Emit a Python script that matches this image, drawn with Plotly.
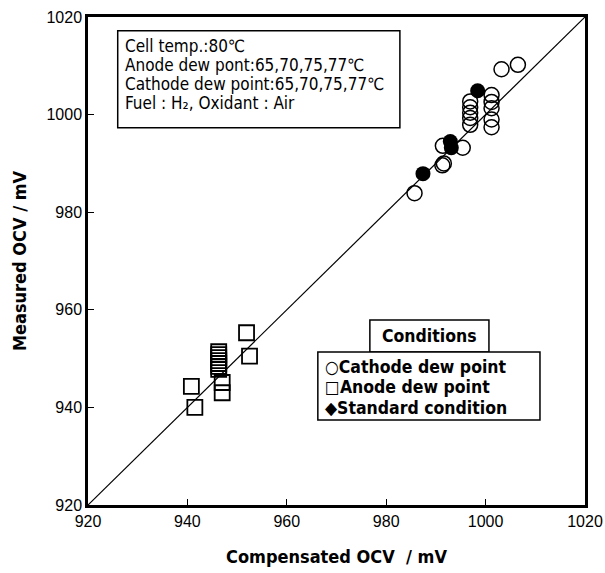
import plotly.graph_objects as go

# ---- data ----
cathode_x = [1003.2, 1006.5,
             996.9, 996.9, 996.9, 996.9, 996.9,
             1001.2, 1001.2, 1001.2, 1001.2, 1001.2,
             991.4, 995.4, 991.3, 991.6, 985.7]
cathode_y = [1009.3, 1010.2,
             1002.7, 1001.5, 1000.4, 999.3, 997.9,
             1004.0, 1002.6, 1001.3, 999.0, 997.4,
             993.6, 993.2, 989.6, 990.0, 983.9]

anode_x = [951.9, 952.5, 946.3, 946.3, 946.3, 946.3, 946.3, 946.3, 946.3,
           947.0, 947.0, 940.8, 941.5]
anode_y = [955.3, 950.5, 951.4, 950.8, 950.2, 949.6, 949.0, 948.4, 947.8,
           945.1, 943.0, 944.3, 940.0]

standard_x = [998.4, 992.9, 993.1, 987.4]
standard_y = [1004.9, 994.5, 993.2, 987.9]

diag = [920, 1020]
ticks = [920, 940, 960, 980, 1000, 1020]

info_lines = ["Cell temp.:80℃",
              "Anode dew pont:65,70,75,77℃",
              "Cathode dew point:65,70,75,77℃",
              "Fuel : H₂, Oxidant : Air"]
legend_title = "Conditions"
legend_items = ["○Cathode dew point", "□Anode dew point", "◆Standard condition"]

COND = "DejaVu Sans Condensed, sans-serif"
TICKF = "Liberation Sans, Arial, sans-serif"

fig = go.Figure()
fig.add_trace(go.Scatter(x=diag, y=diag, mode="lines",
                         line=dict(color="black", width=1.2), hoverinfo="skip"))
fig.add_trace(go.Scatter(x=anode_x, y=anode_y, mode="markers", name="Anode dew point",
                         marker=dict(symbol="square-open", size=15, color="black",
                                     line=dict(width=1.8, color="black"))))
fig.add_trace(go.Scatter(x=cathode_x, y=cathode_y, mode="markers", name="Cathode dew point",
                         marker=dict(symbol="circle-open", size=15, color="black",
                                     line=dict(width=1.5, color="black"))))
fig.add_trace(go.Scatter(x=standard_x, y=standard_y, mode="markers", name="Standard condition",
                         marker=dict(symbol="circle", size=15, color="black")))

axis_common = dict(range=[920, 1020], tickvals=ticks, showgrid=False, zeroline=False,
                   showline=True, linecolor="black", linewidth=2.5, mirror=True,
                   ticks="inside", ticklen=6, tickwidth=1.2, tickcolor="black",
                   automargin=False,
                   tickfont=dict(family=TICKF, size=16, color="black"))
fig.update_xaxes(**axis_common,
                 title=dict(text="<b>Compensated OCV  / mV</b>", standoff=22,
                            font=dict(family=COND, size=18, color="black")))
fig.update_yaxes(**axis_common,
                 title=dict(text="<b>Measured OCV / mV</b>", standoff=16,
                            font=dict(family=COND, size=18, color="black")))

def px(xp):
    return (xp - 88.3) / 496.7

def py(yp):
    return (505 - yp) / 487.7

shapes = [
    dict(type="rect", xref="paper", yref="paper", x0=px(118), x1=px(400), y0=py(128), y1=py(31),
         line=dict(color="black", width=1.5), fillcolor="white", layer="below"),
    dict(type="rect", xref="paper", yref="paper", x0=px(370), x1=px(489), y0=py(352), y1=py(320),
         line=dict(color="black", width=1.5), fillcolor="white", layer="below"),
    dict(type="rect", xref="paper", yref="paper", x0=px(318), x1=px(540), y0=py(420), y1=py(352),
         line=dict(color="black", width=1.5), fillcolor="white", layer="below"),
]

annotations = []
for i, t in enumerate(info_lines):
    annotations.append(dict(xref="paper", yref="paper", x=px(124), y=py(46 + 19 * i),
                            xanchor="left", yanchor="middle", showarrow=False, text=t,
                            borderpad=0,
                            font=dict(family=COND, size=17, color="black")))
annotations.append(dict(xref="paper", yref="paper", x=px(429.5), y=py(336),
                        xanchor="center", yanchor="middle", showarrow=False,
                        text="<b>" + legend_title + "</b>",
                        font=dict(family=COND, size=17.5, color="black")))
for i, t in enumerate(legend_items):
    annotations.append(dict(xref="paper", yref="paper", x=px(323), y=py(367 + 20.5 * i),
                            xanchor="left", yanchor="middle", showarrow=False,
                            text="<b>" + t + "</b>",
                            font=dict(family=COND, size=17.5, color="black")))

fig.update_layout(width=605, height=573, showlegend=False,
                  margin=dict(l=88, r=20, t=17, b=68),
                  paper_bgcolor="white", plot_bgcolor="white",
                  shapes=shapes, annotations=annotations)

fig.write_html("out.html", config={"displayModeBar": False},
               post_script="document.body.style.margin='0';")
